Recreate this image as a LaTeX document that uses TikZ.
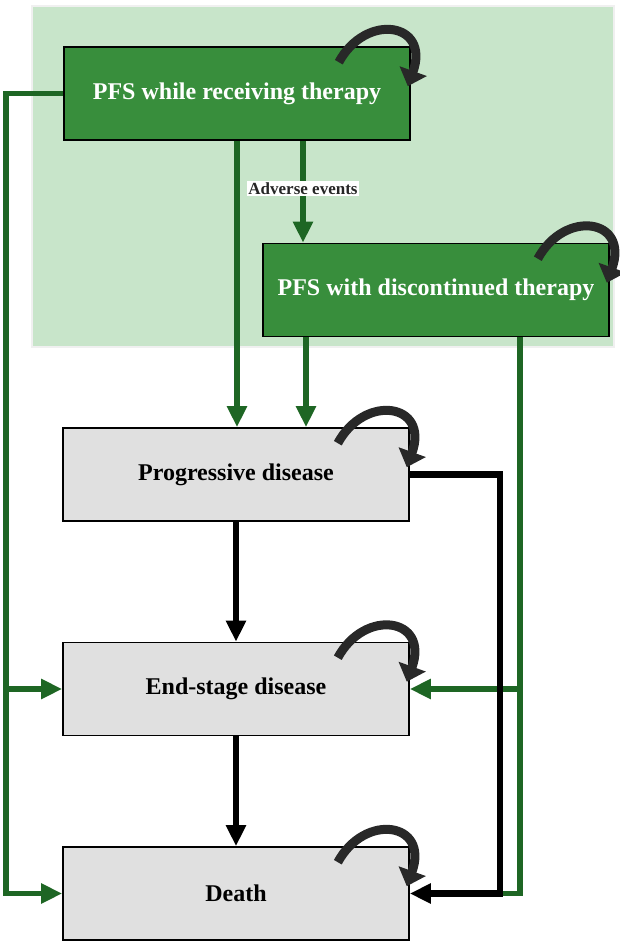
\documentclass[tikz,border=0pt]{standalone}
\usepackage{fontspec}
\setmainfont{Liberation Serif}
\usetikzlibrary{arrows.meta}
\definecolor{boxgreen}{RGB}{56,142,60}
\definecolor{linegreen}{RGB}{30,102,36}
\definecolor{bggreen}{RGB}{200,229,202}
\definecolor{boxgray}{RGB}{224,224,224}
\definecolor{loopgray}{RGB}{40,40,40}

\begin{document}
\begin{tikzpicture}[x=1pt,y=-1pt,>={Triangle[length=21pt,width=19pt]},
    state/.style={draw=black,line width=1.6pt,minimum width=346pt,minimum height=93pt,inner sep=0pt,font=\fontsize{24}{28}\selectfont\bfseries},
    pfs/.style={state,fill=boxgreen,text=white},
    later/.style={state,fill=boxgray,text=black},
    gline/.style={draw=linegreen,line width=5.5pt},
    bline/.style={draw=black,line width=6.5pt},
    evlabel/.style={fill=white,text=black!85,font=\fontsize{17}{20}\selectfont\bfseries,inner sep=1.5pt},
    selfloop/.pic={\draw[loopgray,line width=9pt,-{Triangle[length=16pt,width=28pt]}] (-72,16) .. controls (-45,-34) and (20,-24) .. (-3,40);}]
    \useasboundingbox (0,0) rectangle (620,942);
    \fill[bggreen] (32,6) rectangle (614,347);
    \draw[black!6,line width=1.5pt] (32,6) rectangle (614,347);
    \node[pfs] (pfsOn) at (237,93.5) {PFS while receiving therapy};
    \node[pfs] (pfsOff) at (436,290) {PFS with discontinued therapy};
    \node[later] (prog) at (236,474.5) {Progressive disease};
    \node[later] (endst) at (236,689) {End-stage disease};
    \node[later] (death) at (236,893.5) {Death};
    \coordinate (lft) at (6,0);
    \coordinate (blk) at (500,0);
    \coordinate (advtop) at ([xshift=66pt]pfsOn.south);
    \coordinate (offdown) at ([xshift=-130pt]pfsOff.south);
    \coordinate (rgt) at ([xshift=84pt]pfsOff.south);
    % green transitions
    \draw[gline,->] (pfsOn.south) -- (pfsOn.south |- prog.north);
    \draw[gline,->] (advtop) -- (advtop |- pfsOff.north) node[midway,yshift=3pt,evlabel] (adv) {Adverse events};
    \draw[gline,->] (offdown) -- (offdown |- prog.north);
    \draw[gline,->] (pfsOn.west) -| (lft |- death.west) -- (death.west);
    \draw[gline,->] (lft |- endst.west) -- (endst.west);
    \draw[gline] (rgt) |- (blk |- death.east);
    \draw[gline,->] (rgt |- endst.east) -- (endst.east);
    % black transitions
    \draw[bline,->] (prog) -- (endst);
    \draw[bline,->] (endst) -- (death);
    \draw[bline,->] (prog.east) -| (blk |- death.east) -- (death.east);
    % staying in the same state
    \pic at (pfsOn.north east) {selfloop};
    \pic at (pfsOff.north east) {selfloop};
    \pic at (prog.north east) {selfloop};
    \pic at (endst.north east) {selfloop};
    \pic at (death.north east) {selfloop};
\end{tikzpicture}
\end{document}
